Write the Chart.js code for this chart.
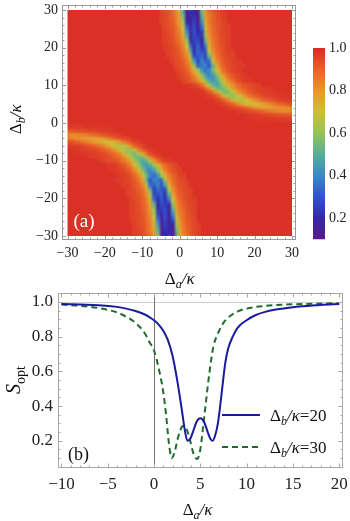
<!DOCTYPE html>
<html><head><meta charset="utf-8">
<script src="https://cdn.jsdelivr.net/npm/chart.js@4.4.1/dist/chart.umd.min.js"></script>
<style>
html,body{margin:0;padding:0;background:#fff;width:350px;height:521px;overflow:hidden}
#wrapA{position:absolute;left:0;top:0;width:350px;height:290px}
#wrapB{position:absolute;left:0;top:290px;width:350px;height:231px}
canvas{display:block}
</style></head><body>
<div id="wrapA"><canvas id="heat" width="350" height="290"></canvas></div>
<div id="wrapB"><canvas id="line" width="350" height="231"></canvas></div>
<script>
// ================= DATA =================
// (a) heat map S_opt(Δa, Δb): background level and the band rows (upper band; the lower band is its point mirror)
const heatTicks = [-30, -20, -10, 0, 10, 20, 30];
const colorbarTicks = [0.2, 0.4, 0.6, 0.8, 1.0];
const fieldValue = 0.99;
const bandRowsB  = [30,29,28,27,26,25,24,23,22,21,20,19,18,17,16,15,14,13,12,11,10,9,8,7,6,5,4,3,2,1];
const bandStartA = [-5,-5,-5,-5,-4,-4,-4,-4,-4,-4,-4,-3,-3,-2,-2,-1,-1,0,0,1,3,4,5,7,9,11,13,16,18,20];
const bandValues = [
 [0.95,0.94,0.92,0.88,0.82,0.72,0.48,0.11,0.28,0.18,0.15,0.60,0.83,0.91,0.95,0.96,0.97,0.98],
 [0.96,0.95,0.93,0.90,0.85,0.77,0.50,0.13,0.21,0.20,0.14,0.54,0.78,0.86,0.90,0.93,0.95,0.96],
 [0.96,0.95,0.93,0.91,0.86,0.78,0.55,0.14,0.20,0.23,0.13,0.49,0.76,0.85,0.90,0.93,0.95,0.96],
 [0.96,0.95,0.93,0.91,0.87,0.80,0.60,0.20,0.19,0.25,0.12,0.44,0.74,0.85,0.90,0.93,0.94,0.96],
 [0.95,0.94,0.92,0.88,0.81,0.65,0.26,0.17,0.27,0.14,0.38,0.73,0.84,0.89,0.92,0.94,0.96,0.96],
 [0.95,0.94,0.92,0.89,0.83,0.69,0.33,0.16,0.28,0.16,0.33,0.69,0.83,0.89,0.92,0.94,0.95,0.96],
 [0.96,0.94,0.93,0.89,0.84,0.73,0.41,0.16,0.29,0.19,0.26,0.65,0.82,0.88,0.92,0.94,0.95,0.96],
 [0.96,0.95,0.93,0.90,0.86,0.77,0.49,0.18,0.28,0.24,0.23,0.61,0.80,0.87,0.91,0.94,0.95,0.96],
 [0.96,0.95,0.94,0.91,0.87,0.79,0.57,0.19,0.26,0.28,0.19,0.54,0.78,0.86,0.91,0.93,0.95,0.96],
 [0.96,0.95,0.94,0.92,0.88,0.82,0.65,0.27,0.24,0.31,0.19,0.46,0.75,0.85,0.90,0.93,0.95,0.96],
 [0.97,0.96,0.95,0.93,0.90,0.84,0.69,0.38,0.22,0.33,0.22,0.34,0.73,0.85,0.90,0.93,0.94,0.96],
 [0.96,0.95,0.93,0.91,0.86,0.77,0.49,0.22,0.33,0.27,0.29,0.65,0.82,0.88,0.92,0.94,0.96,0.96],
 [0.96,0.95,0.94,0.92,0.88,0.81,0.60,0.26,0.31,0.33,0.25,0.56,0.79,0.87,0.91,0.94,0.95,0.96],
 [0.96,0.94,0.93,0.89,0.83,0.68,0.36,0.29,0.37,0.26,0.43,0.74,0.85,0.90,0.93,0.95,0.96,0.97],
 [0.96,0.95,0.93,0.91,0.86,0.76,0.49,0.28,0.39,0.33,0.33,0.65,0.82,0.88,0.92,0.94,0.96,0.96,0.97],
 [0.95,0.94,0.92,0.88,0.81,0.63,0.33,0.37,0.40,0.30,0.52,0.77,0.86,0.91,0.94,0.95,0.96,0.97,0.97],
 [0.96,0.95,0.93,0.90,0.84,0.74,0.60,0.43,0.34,0.40,0.55,0.71,0.82,0.89,0.92,0.95,0.96,0.97],
 [0.96,0.94,0.92,0.88,0.80,0.69,0.53,0.40,0.38,0.47,0.63,0.76,0.85,0.90,0.93,0.95,0.96,0.97],
 [0.96,0.95,0.93,0.90,0.85,0.76,0.63,0.49,0.41,0.43,0.54,0.68,0.79,0.87,0.91,0.94,0.95,0.97,0.97],
 [0.96,0.94,0.92,0.88,0.82,0.73,0.61,0.49,0.44,0.48,0.59,0.71,0.81,0.87,0.91,0.94,0.96,0.97,0.97],
 [0.97,0.96,0.93,0.88,0.79,0.64,0.51,0.48,0.54,0.64,0.74,0.81,0.86,0.89,0.92,0.93,0.94,0.95,0.96],
 [0.98,0.97,0.95,0.90,0.82,0.67,0.55,0.52,0.56,0.66,0.75,0.82,0.87,0.90,0.92,0.94,0.95,0.96,0.96,0.97,0.97],
 [0.98,0.98,0.96,0.93,0.87,0.77,0.63,0.55,0.57,0.65,0.74,0.81,0.86,0.90,0.92,0.94,0.95,0.96,0.96,0.97,0.97,0.98,0.98,0.98],
 [0.98,0.97,0.95,0.91,0.84,0.74,0.63,0.59,0.62,0.69,0.76,0.83,0.87,0.90,0.92,0.94,0.95,0.96,0.96,0.97,0.97,0.98,0.98,0.98],
 [0.98,0.96,0.94,0.90,0.84,0.76,0.68,0.65,0.66,0.70,0.76,0.81,0.85,0.88,0.91,0.92,0.94,0.95,0.96,0.96,0.97,0.97],
 [0.97,0.96,0.94,0.90,0.86,0.81,0.76,0.72,0.71,0.71,0.73,0.76,0.79,0.82,0.85,0.87,0.90,0.91,0.93,0.94],
 [0.97,0.96,0.95,0.93,0.91,0.88,0.85,0.81,0.79,0.77,0.76,0.76,0.77,0.78,0.80,0.81,0.83,0.85],
 [0.97,0.96,0.95,0.94,0.93,0.91,0.90,0.88,0.87,0.85,0.84,0.83,0.82,0.82,0.83],
 [0.98,0.97,0.97,0.97,0.96,0.95,0.95,0.94,0.94,0.93,0.93,0.92,0.92],
 [0.98,0.98,0.98,0.98,0.98,0.98,0.97,0.97,0.97,0.97,0.97]
];

// (b) line cuts S_opt(Δa) for Δb/κ = 20 and 30
const lineXTicks = [-10, -5, 0, 5, 10, 15, 20];
const lineYTicks = [0.2, 0.4, 0.6, 0.8, 1.0];
const seriesNames = ['20', '30'];
const deltaA20 = [-10,-8,-6,-4,-3,-2,-1,-0.5,0,0.5,1,1.5,2,2.5,3,3.3,3.6,3.9,4.2,4.6,5.0,5.4,5.8,6.1,6.35,6.6,6.9,7.1,7.4,7.7,8.0,8.5,9,10,11,12,13,14,15,16,18,20];
const S20      = [0.988,0.985,0.982,0.972,0.962,0.948,0.928,0.913,0.895,0.870,0.835,0.78,0.69,0.55,0.38,0.27,0.20,0.21,0.25,0.31,0.33,0.31,0.25,0.21,0.20,0.23,0.30,0.38,0.52,0.65,0.73,0.80,0.85,0.895,0.925,0.943,0.955,0.963,0.970,0.975,0.983,0.988];
const deltaA30 = [-10,-8,-6,-4,-3,-2,-1,-0.5,0,0.5,1.0,1.3,1.6,1.9,2.2,2.6,3.0,3.2,3.5,3.9,4.3,4.65,5.0,5.3,5.6,6.0,6.4,7,7.5,8,9,10,12,14,17,20];
const S30      = [0.985,0.978,0.965,0.94,0.915,0.88,0.82,0.77,0.72,0.62,0.48,0.35,0.19,0.10,0.13,0.22,0.28,0.285,0.27,0.20,0.12,0.095,0.15,0.28,0.42,0.60,0.74,0.83,0.88,0.91,0.945,0.962,0.978,0.985,0.99,0.993];

// ================= STYLE =================
const SERIF = '"Liberation Serif","Times New Roman",serif';
Chart.defaults.font.family = SERIF;
const cmapStops = [
  [0.10,[92,24,138]],[0.20,[54,40,166]],[0.30,[48,84,204]],[0.40,[60,136,198]],
  [0.50,[88,174,150]],[0.60,[148,196,88]],[0.70,[206,190,56]],[0.80,[234,148,46]],
  [0.90,[232,98,40]],[1.00,[216,42,38]]
];
function colorFor(v){
  if (v <= cmapStops[0][0]) return 'rgb(' + cmapStops[0][1].join(',') + ')';
  for (let i = 1; i < cmapStops.length; i++){
    if (v <= cmapStops[i][0]){
      const [v0,c0] = cmapStops[i-1], [v1,c1] = cmapStops[i];
      const t = (v - v0) / (v1 - v0);
      return 'rgb(' + c0.map((c,k)=>Math.round(c + (c1[k]-c)*t)).join(',') + ')';
    }
  }
  return 'rgb(' + cmapStops[cmapStops.length-1][1].join(',') + ')';
}
const fmtTick = v => (v < 0 ? '\u2212' + Math.abs(v) : String(v));

function drawRich(ctx, parts, x, y, align){
  let w = 0;
  for (const p of parts){ ctx.font = p.font; w += ctx.measureText(p.t).width; }
  let cx = align === 'center' ? x - w/2 : (align === 'right' ? x - w : x);
  ctx.textBaseline = 'alphabetic'; ctx.textAlign = 'left';
  for (const p of parts){ ctx.font = p.font; ctx.fillText(p.t, cx, y + (p.dy||0)); cx += ctx.measureText(p.t).width; }
}
function deltaLabel(sub, size, extra){
  const parts = [
    {t:'\u0394', font: size + 'px ' + SERIF},
    {t:sub, font: 'italic ' + Math.round(size*0.7) + 'px ' + SERIF, dy: Math.round(size*0.25)},
    {t:'/\u03BA', font: 'italic ' + size + 'px ' + SERIF}
  ];
  if (extra) parts.push({t: extra, font: size + 'px ' + SERIF});
  return parts;
}
function drawFrameTicks(chart, cfg){
  const {ctx, chartArea: ca, scales:{x, y}} = chart;
  ctx.save();
  ctx.strokeStyle = cfg.color; ctx.lineWidth = 1;
  ctx.strokeRect(ca.left + 0.5, ca.top + 0.5, ca.width - 1, ca.height - 1);
  ctx.beginPath();
  const xt = (v, len) => { const p = Math.round(x.getPixelForValue(v)) + 0.5;
    ctx.moveTo(p, ca.bottom); ctx.lineTo(p, ca.bottom - len); ctx.moveTo(p, ca.top); ctx.lineTo(p, ca.top + len); };
  const yt = (v, len) => { const p = Math.round(y.getPixelForValue(v)) + 0.5;
    ctx.moveTo(ca.left, p); ctx.lineTo(ca.left + len, p); ctx.moveTo(ca.right, p); ctx.lineTo(ca.right - len, p); };
  for (let i = 0; ; i++){ const v = cfg.x0 + i*cfg.xMinor; if (v > cfg.x1 + 1e-9) break;
    const major = Math.abs(Math.round(v/cfg.xMajor)*cfg.xMajor - v) < 1e-6; xt(v, major ? cfg.major : cfg.minor); }
  for (let i = 0; ; i++){ const v = cfg.y0 + i*cfg.yMinor; if (v > cfg.y1 + 1e-9) break;
    const major = Math.abs(Math.round(v/cfg.yMajor)*cfg.yMajor - v) < 1e-6; yt(v, major ? cfg.major : cfg.minor); }
  ctx.stroke();
  ctx.restore();
}

// ================= CHART (a) =================
const heatPlugin = {
  id: 'heatCells',
  beforeDatasetsDraw(chart){
    const {ctx, scales:{x, y}} = chart;
    const L = x.getPixelForValue(-30), R = x.getPixelForValue(30);
    const T = y.getPixelForValue(30), B = y.getPixelForValue(-30);
    const off = document.createElement('canvas'); off.width = chart.width; off.height = chart.height;
    const o = off.getContext('2d');
    o.fillStyle = colorFor(fieldValue); o.fillRect(L - 12, T - 12, R - L + 24, B - T + 24);
    const cell = (a, b, v) => {
      const a0 = a === -30 ? a - 2 : a - 0.5, a1 = a === 30 ? a + 2 : a + 0.5;
      const b0 = b === -30 ? b - 2 : b - 0.5, b1 = b === 30 ? b + 2 : b + 0.5;
      const x0 = Math.floor(x.getPixelForValue(a0)), x1 = Math.ceil(x.getPixelForValue(a1));
      const y0 = Math.floor(y.getPixelForValue(b1)), y1 = Math.ceil(y.getPixelForValue(b0));
      o.fillStyle = colorFor(v); o.fillRect(x0, y0, x1 - x0, y1 - y0);
    };
    bandRowsB.forEach((b, i) => bandValues[i].forEach((v, j) => {
      const a = bandStartA[i] + j; cell(a, b, v); cell(-a, -b, v);
    }));
    ctx.save();
    ctx.beginPath(); ctx.rect(L, T, R - L, B - T); ctx.clip();
    ctx.filter = 'blur(0.9px)';
    ctx.drawImage(off, 0, 0);
    ctx.restore();
    // colour bar
    const cb = chart.scales.cb;
    const yTop = cb.getPixelForValue(1.0), yBot = cb.getPixelForValue(0.1);
    const g = ctx.createLinearGradient(0, yBot, 0, yTop);
    cmapStops.forEach(([v]) => g.addColorStop((v - 0.1)/0.9, colorFor(v)));
    ctx.fillStyle = g;
    ctx.fillRect(cb.left + 17, yTop, 12, yBot - yTop);
  },
  afterDraw(chart){
    const {ctx, scales:{x, y}} = chart;
    drawFrameTicks(chart, {color:'#9a9a9a', x0:-30, x1:30, xMinor:2, xMajor:10, y0:-30, y1:30, yMinor:2, yMajor:10, major:4, minor:2.5});
    ctx.save();
    ctx.fillStyle = '#fff';
    ctx.font = '19px ' + SERIF; ctx.textAlign = 'left'; ctx.textBaseline = 'alphabetic';
    ctx.fillText('(a)', x.getPixelForValue(-28.4), y.getPixelForValue(-27.6));
    ctx.fillStyle = '#111';
    drawRich(ctx, deltaLabel('a', 17), x.getPixelForValue(0), 284, 'center');
    ctx.translate(15, y.getPixelForValue(1)); ctx.rotate(-Math.PI/2);
    drawRich(ctx, deltaLabel('b', 17), 0, 6, 'center');
    ctx.restore();
  }
};

new Chart(document.getElementById('heat'), {
  type: 'scatter',
  data: { datasets: [{ data: [], pointRadius: 0 }] },
  options: {
    responsive: false, animation: false, devicePixelRatio: 1,
    layout: { padding: { top: 5, left: 0, right: 0, bottom: 0 } },
    plugins: { legend: { display: false }, tooltip: { enabled: false } },
    scales: {
      x: { type: 'linear', position: 'bottom', min: -31.47, max: 31.07,
        grid: { display: false, drawTicks: false }, border: { display: false },
        afterBuildTicks: s => { s.ticks = heatTicks.map(v => ({ value: v })); },
        ticks: { autoSkip: false, maxRotation: 0, minRotation: 0, padding: 5, color: '#222',
          font: { family: SERIF, size: 14 }, callback: v => fmtTick(v) },
        afterFit: s => { s.height = 50; s.paddingLeft = 0; s.paddingRight = 0; } },
      y: { type: 'linear', position: 'left', min: -31.06, max: 31.33,
        grid: { display: false, drawTicks: false }, border: { display: false },
        afterBuildTicks: s => { s.ticks = heatTicks.map(v => ({ value: v })); },
        ticks: { autoSkip: false, padding: 4, color: '#222', font: { family: SERIF, size: 14 }, callback: v => fmtTick(v) },
        afterFit: s => { s.width = 62; s.paddingTop = 0; s.paddingBottom = 0; } },
      cb: { type: 'linear', position: 'right', min: 0.0965, max: 1.2024,
        grid: { display: false, drawTicks: false }, border: { display: false },
        afterBuildTicks: s => { s.ticks = colorbarTicks.map(v => ({ value: v })); },
        ticks: { autoSkip: false, padding: 33, color: '#222', font: { family: SERIF, size: 14 }, callback: v => Number(v).toFixed(1) },
        afterFit: s => { s.width = 54; s.paddingTop = 0; s.paddingBottom = 0; } }
    }
  },
  plugins: [heatPlugin]
});

// ================= CHART (b) =================
const linePlugin = {
  id: 'lineDecor',
  beforeDatasetsDraw(chart){
    const {ctx, chartArea: ca, scales:{x, y}} = chart;
    ctx.save(); ctx.lineWidth = 1;
    ctx.strokeStyle = '#cfcfcf';
    const p1 = Math.round(y.getPixelForValue(1.0)) + 0.5;
    ctx.beginPath(); ctx.moveTo(ca.left, p1); ctx.lineTo(ca.right, p1); ctx.stroke();
    ctx.strokeStyle = '#707070';
    const p0 = Math.round(x.getPixelForValue(0)) + 0.5;
    ctx.beginPath(); ctx.moveTo(p0, ca.top); ctx.lineTo(p0, ca.bottom); ctx.stroke();
    ctx.restore();
  },
  afterDraw(chart){
    const {ctx, chartArea: ca, scales:{x, y}} = chart;
    drawFrameTicks(chart, {color:'#a8a8a8', x0:-10, x1:20, xMinor:1, xMajor:5, y0:0.05, y1:1.05, yMinor:0.05, yMajor:0.2, major:4.5, minor:2.5});
    ctx.save();
    const ds = chart.data.datasets;
    const rows = [125, 157];
    ds.forEach((d, i) => {
      ctx.strokeStyle = d.borderColor; ctx.lineWidth = d.borderWidth;
      ctx.setLineDash(d.borderDash || []);
      ctx.beginPath(); ctx.moveTo(222, rows[i]); ctx.lineTo(260, rows[i]); ctx.stroke();
      ctx.setLineDash([]);
      ctx.fillStyle = '#111';
      drawRich(ctx, deltaLabel('b', 17, '=' + seriesNames[i]), 270, rows[i] + 6, 'left');
    });
    ctx.fillStyle = '#111';
    ctx.font = '18px ' + SERIF; ctx.textAlign = 'left'; ctx.textBaseline = 'alphabetic';
    ctx.fillText('(b)', 68, 170);
    drawRich(ctx, deltaLabel('a', 17), x.getPixelForValue(4.7), 225, 'center');
    ctx.translate(14, 90); ctx.rotate(-Math.PI/2);
    drawRich(ctx, [{t:'S', font:'italic 20px ' + SERIF}, {t:'opt', font:'14px ' + SERIF, dy:5}], 0, 6, 'center');
    ctx.restore();
  }
};

new Chart(document.getElementById('line'), {
  type: 'line',
  data: {
    datasets: [
      { label: '\u0394b/\u03BA=' + seriesNames[0], data: deltaA20.map((a, i) => ({ x: a, y: S20[i] })),
        borderColor: '#1a1a9e', borderWidth: 2, pointRadius: 0, fill: false, cubicInterpolationMode: 'monotone' },
      { label: '\u0394b/\u03BA=' + seriesNames[1], data: deltaA30.map((a, i) => ({ x: a, y: S30[i] })),
        borderColor: '#1f6b2c', borderWidth: 2, borderDash: [6, 4], pointRadius: 0, fill: false, cubicInterpolationMode: 'monotone' }
    ]
  },
  options: {
    responsive: false, animation: false, devicePixelRatio: 1,
    layout: { padding: { top: 3, left: 0, right: 7, bottom: 0 } },
    plugins: { legend: { display: false }, tooltip: { enabled: false } },
    scales: {
      x: { type: 'linear', min: -10.37, max: 20.41,
        grid: { display: false, drawTicks: false }, border: { display: false },
        afterBuildTicks: s => { s.ticks = lineXTicks.map(v => ({ value: v })); },
        ticks: { autoSkip: false, maxRotation: 0, minRotation: 0, padding: 6, color: '#222',
          font: { family: SERIF, size: 17 }, callback: v => fmtTick(v) },
        afterFit: s => { s.height = 53; s.paddingLeft = 0; s.paddingRight = 0; } },
      y: { type: 'linear', min: 0.043, max: 1.052,
        grid: { display: false, drawTicks: false }, border: { display: false },
        afterBuildTicks: s => { s.ticks = lineYTicks.map(v => ({ value: v })); },
        ticks: { autoSkip: false, padding: 5, color: '#222', font: { family: SERIF, size: 17 }, callback: v => Number(v).toFixed(1) },
        afterFit: s => { s.width = 58; s.paddingTop = 0; s.paddingBottom = 0; } }
    }
  },
  plugins: [linePlugin]
});
</script>
</body></html>
